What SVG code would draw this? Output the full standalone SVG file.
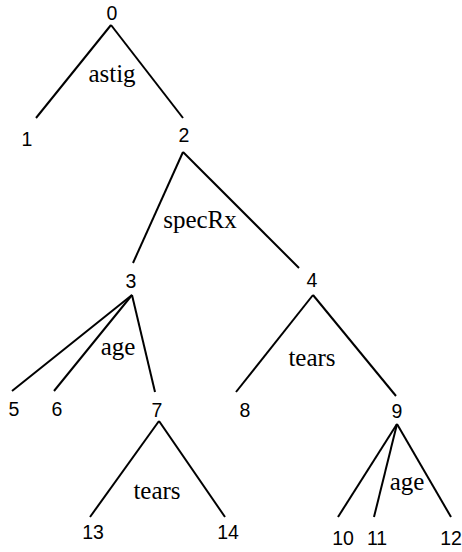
<svg xmlns="http://www.w3.org/2000/svg" width="462" height="552" viewBox="0 0 462 552">
<style>
.n{font-family:"Liberation Sans",Arial,sans-serif;font-size:19.5px;fill:#000;text-anchor:middle}
.l{font-family:"Liberation Serif","Times New Roman",serif;font-size:25px;fill:#000;text-anchor:middle}
.e line{stroke:#000;stroke-width:2;stroke-linecap:butt}
</style>
<rect width="462" height="552" fill="#fff"/>
<g id="edges" class="e">
<line x1="111" y1="25" x2="36" y2="118"/>
<line x1="111" y1="25" x2="183" y2="118"/>
<line x1="183" y1="152" x2="133" y2="263"/>
<line x1="183" y1="152" x2="299" y2="268"/>
<line x1="132" y1="295" x2="12" y2="391"/>
<line x1="132" y1="295" x2="54" y2="391"/>
<line x1="132" y1="295" x2="155" y2="392"/>
<line x1="313" y1="295" x2="236" y2="392"/>
<line x1="313" y1="295" x2="396" y2="396"/>
<line x1="159" y1="421" x2="90" y2="517"/>
<line x1="159" y1="421" x2="225" y2="517"/>
<line x1="397" y1="424" x2="338" y2="517"/>
<line x1="397" y1="424" x2="374" y2="517"/>
<line x1="397" y1="424" x2="451" y2="517"/>
</g>
<g id="edge-labels">
<text class="l" x="112" y="82">astig</text>
<text class="l" x="200" y="228">specRx</text>
<text class="l" x="118" y="355">age</text>
<text class="l" x="312" y="366">tears</text>
<text class="l" x="157" y="499">tears</text>
<text class="l" x="407" y="490">age</text>
</g>
<g id="node0"><text class="n" x="112" y="20">0</text></g>
<g id="node1"><text class="n" x="27" y="146">1</text></g>
<g id="node2"><text class="n" x="184" y="142">2</text></g>
<g id="node3"><text class="n" x="131" y="288">3</text></g>
<g id="node4"><text class="n" x="312" y="287">4</text></g>
<g id="node5"><text class="n" x="14" y="416">5</text></g>
<g id="node6"><text class="n" x="57" y="416">6</text></g>
<g id="node7"><text class="n" x="157" y="417">7</text></g>
<g id="node8"><text class="n" x="245" y="417">8</text></g>
<g id="node9"><text class="n" x="397" y="418">9</text></g>
<g id="node10"><text class="n" x="343" y="545">10</text></g>
<g id="node11"><text class="n" x="377" y="545">11</text></g>
<g id="node12"><text class="n" x="451" y="545">12</text></g>
<g id="node13"><text class="n" x="93" y="539">13</text></g>
<g id="node14"><text class="n" x="228" y="539">14</text></g>
</svg>
